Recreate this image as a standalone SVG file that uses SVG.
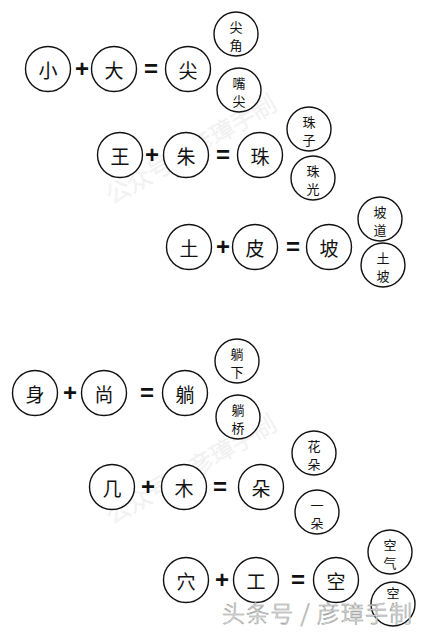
<svg xmlns="http://www.w3.org/2000/svg" width="427" height="635" viewBox="0 0 427 635">
<style>
.c{fill:#fff;stroke:#111;stroke-width:1.4}
.t{font-family:"Noto Sans CJK SC",sans-serif;fill:#111;text-anchor:middle;dominant-baseline:central}
.big{font-size:19px}
.sm{font-size:13px}
.op{font-family:"Liberation Sans",sans-serif;font-weight:bold;font-size:24px;fill:#111;text-anchor:middle;dominant-baseline:central}
.wm{font-family:"Noto Sans CJK SC",sans-serif;font-size:24px;font-weight:300;fill:none;stroke:#eeeeee;stroke-width:0.7}
.wm2{font-family:"Noto Sans CJK SC",sans-serif;font-size:23px;font-weight:300;fill:#fff;stroke:#9a9a9a;stroke-width:0.6}
</style>
<rect width="427" height="635" fill="#fff"/>
<g id="watermarks-bg">
<text class="wm" transform="translate(112,205) rotate(-30)">公众号：彦璋手制</text>
<text class="wm" transform="translate(112,525) rotate(-30)">公众号：彦璋手制</text>
</g>
<g id="connectors"></g>
<!-- Equation 1 -->
<g id="n-xiao"><circle class="c" cx="48" cy="69" r="22.5"/><text class="t big" x="48" y="69">小</text></g>
<g id="op1-plus"><text class="op" x="82" y="68">+</text></g>
<g id="n-da"><circle class="c" cx="114" cy="69" r="22.5"/><text class="t big" x="114" y="69">大</text></g>
<g id="op1-eq"><text class="op" x="151" y="68">=</text></g>
<g id="n-jian"><circle class="c" cx="188" cy="69" r="22.5"/><text class="t big" x="188" y="69">尖</text></g>
<g id="n-jianjiao"><circle class="c" cx="236" cy="34" r="22"/><text class="t sm" x="236" y="26">尖</text><text class="t sm" x="236" y="44">角</text></g>
<g id="n-zuijian"><circle class="c" cx="239" cy="90" r="22"/><text class="t sm" x="239" y="82">嘴</text><text class="t sm" x="239" y="100">尖</text></g>
<!-- Equation 2 -->
<g id="n-wang"><circle class="c" cx="120" cy="155" r="22.5"/><text class="t big" x="120" y="155">王</text></g>
<g id="op2-plus"><text class="op" x="152" y="154">+</text></g>
<g id="n-zhu0"><circle class="c" cx="186" cy="155" r="22.5"/><text class="t big" x="186" y="155">朱</text></g>
<g id="op2-eq"><text class="op" x="223" y="154">=</text></g>
<g id="n-zhu"><circle class="c" cx="260" cy="155" r="22.5"/><text class="t big" x="260" y="155">珠</text></g>
<g id="n-zhuzi"><circle class="c" cx="309" cy="129" r="22"/><text class="t sm" x="309" y="121">珠</text><text class="t sm" x="309" y="139">子</text></g>
<g id="n-zhuguang"><circle class="c" cx="313" cy="178" r="22"/><text class="t sm" x="313" y="170">珠</text><text class="t sm" x="313" y="188">光</text></g>
<!-- Equation 3 -->
<g id="n-tu"><circle class="c" cx="189" cy="247" r="22.5"/><text class="t big" x="189" y="247">土</text></g>
<g id="op3-plus"><text class="op" x="223" y="246">+</text></g>
<g id="n-pi"><circle class="c" cx="255" cy="247" r="22.5"/><text class="t big" x="255" y="247">皮</text></g>
<g id="op3-eq"><text class="op" x="293" y="246">=</text></g>
<g id="n-po"><circle class="c" cx="329" cy="247" r="22.5"/><text class="t big" x="329" y="247">坡</text></g>
<g id="n-podao"><circle class="c" cx="380" cy="219" r="22"/><text class="t sm" x="380" y="211">坡</text><text class="t sm" x="380" y="229">道</text></g>
<g id="n-tupo"><circle class="c" cx="383" cy="265" r="22"/><text class="t sm" x="383" y="257">土</text><text class="t sm" x="383" y="275">坡</text></g>
<!-- Equation 4 -->
<g id="n-shen"><circle class="c" cx="35" cy="393" r="22.5"/><text class="t big" x="35" y="393">身</text></g>
<g id="op4-plus"><text class="op" x="70" y="392">+</text></g>
<g id="n-shang"><circle class="c" cx="104" cy="393" r="22.5"/><text class="t big" x="104" y="393">尚</text></g>
<g id="op4-eq"><text class="op" x="147" y="392">=</text></g>
<g id="n-tang"><circle class="c" cx="185" cy="393" r="22.5"/><text class="t big" x="185" y="393">躺</text></g>
<g id="n-tangxia"><circle class="c" cx="237" cy="361" r="22"/><text class="t sm" x="237" y="353">躺</text><text class="t sm" x="237" y="371">下</text></g>
<g id="n-tangqiao"><circle class="c" cx="238" cy="417" r="22"/><text class="t sm" x="238" y="409">躺</text><text class="t sm" x="238" y="427">桥</text></g>
<!-- Equation 5 -->
<g id="n-ji"><circle class="c" cx="112" cy="487" r="22.5"/><text class="t big" x="112" y="487">几</text></g>
<g id="op5-plus"><text class="op" x="148" y="486">+</text></g>
<g id="n-mu"><circle class="c" cx="184" cy="487" r="22.5"/><text class="t big" x="184" y="487">木</text></g>
<g id="op5-eq"><text class="op" x="220" y="486">=</text></g>
<g id="n-duo"><circle class="c" cx="261" cy="487" r="22.5"/><text class="t big" x="261" y="487">朵</text></g>
<g id="n-huaduo"><circle class="c" cx="314" cy="453" r="22"/><text class="t sm" x="314" y="445">花</text><text class="t sm" x="314" y="463">朵</text></g>
<g id="n-yiduo"><circle class="c" cx="317" cy="512" r="22"/><text class="t sm" x="317" y="504">一</text><text class="t sm" x="317" y="522">朵</text></g>
<!-- Equation 6 -->
<g id="n-xue"><circle class="c" cx="186" cy="580" r="22.5"/><text class="t big" x="186" y="580">穴</text></g>
<g id="op6-plus"><text class="op" x="222" y="579">+</text></g>
<g id="n-gong"><circle class="c" cx="256" cy="580" r="22.5"/><text class="t big" x="256" y="580">工</text></g>
<g id="op6-eq"><text class="op" x="298" y="579">=</text></g>
<g id="n-kong"><circle class="c" cx="336" cy="580" r="22.5"/><text class="t big" x="336" y="580">空</text></g>
<g id="n-kongqi"><circle class="c" cx="390" cy="552" r="22"/><text class="t sm" x="390" y="544">空</text><text class="t sm" x="390" y="562">气</text></g>
<g id="n-kong2"><circle class="c" cx="393" cy="604" r="22"/><text class="t sm" x="393" y="592">空</text></g>
<g id="watermark-bottom">
<text class="wm2" x="222" y="622" textLength="190">头条号 / 彦璋手制</text>
</g>
</svg>
